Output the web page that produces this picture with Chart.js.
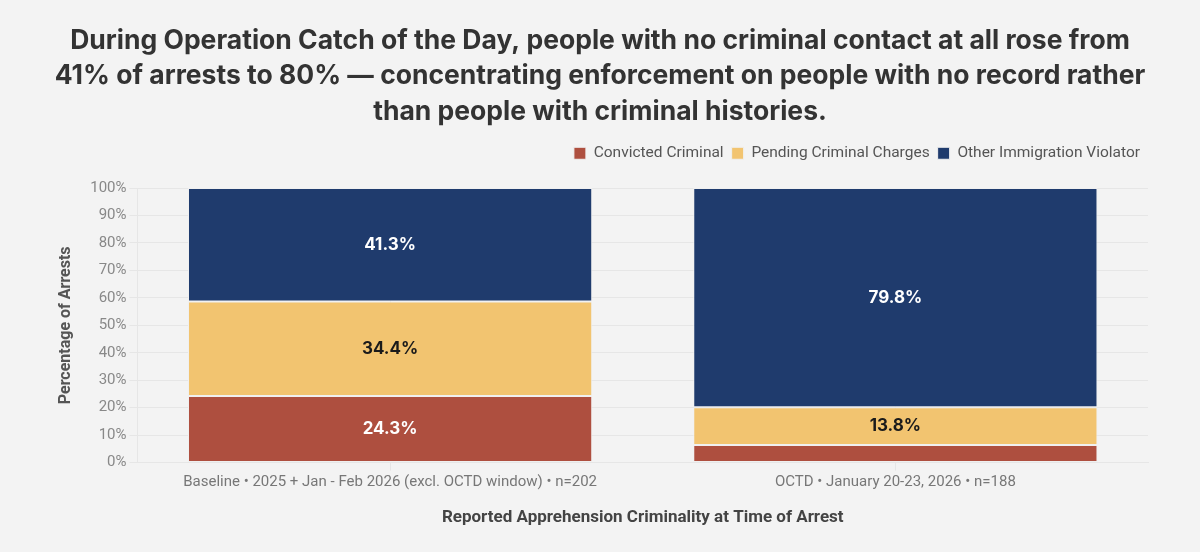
<!DOCTYPE html>
<html>
<head>
<meta charset="utf-8">
<script src="https://cdn.jsdelivr.net/npm/chart.js@4.4.1/dist/chart.umd.min.js"></script>
<style>
  html, body { margin: 0; padding: 0; background: #f7f7f7; }
  #wrap { width: 1200px; height: 552px; background: #f3f3f3; }
</style>
</head>
<body>
<div id="wrap"><canvas id="arrestChart" width="1200" height="552"></canvas></div>
<script>
// data
var categories = [
    "Baseline \u2022 2025 + Jan - Feb 2026 (excl. OCTD window) \u2022 n=202",
    "OCTD \u2022 January 20-23, 2026 \u2022 n=188"
];
var convicted = [24.3, 6.4];
var pending = [34.4, 13.8];
var otherViolator = [41.3, 79.8];
var yTicks = [0, 10, 20, 30, 40, 50, 60, 70, 80, 90, 100];

var titleLines = [
    "During Operation Catch of the Day, people with no criminal contact at all rose from",
    "41% of arrests to 80% \u2014 concentrating enforcement on people with no record rather",
    "than people with criminal histories."
];

// labels in the middle of each segment (small ones skipped)
var segmentLabels = {
    id: 'segmentLabels',
    afterDatasetsDraw: function(chart) {
        var ctx = chart.ctx;
        ctx.save();
        ctx.font = 'bold 17px Inter';
        ctx.textAlign = 'center';
        ctx.textBaseline = 'middle';
        chart.data.datasets.forEach(function(ds, i) {
            var meta = chart.getDatasetMeta(i);
            meta.data.forEach(function(bar, j) {
                var v = ds.data[j];
                if (v < 10) return;
                ctx.fillStyle = ds.labelColor;
                ctx.fillText(v.toFixed(1) + '%', bar.x, (bar.y + bar.base) / 2);
            });
        });
        ctx.restore();
    }
};

// a bit more room under the legend
var legendGap = {
    id: 'legendGap',
    beforeInit: function(chart) {
        var fit = chart.legend.fit;
        chart.legend.fit = function() {
            fit.bind(chart.legend)();
            this.height += 17;
        };
    }
};

var ctx = document.getElementById("arrestChart").getContext('2d');
var arrestChart = new Chart(ctx, {
    type: 'bar',
    data: {
        labels: categories,
        datasets: [{
            label: "Convicted Criminal",
            data: convicted,
            backgroundColor: "#ae4f3f",
            labelColor: "#ffffff"
        }, {
            label: "Pending Criminal Charges",
            data: pending,
            backgroundColor: "#f2c470",
            labelColor: "#1a1a1a"
        }, {
            label: "Other Immigration Violator",
            data: otherViolator,
            backgroundColor: "#1f3b6d",
            labelColor: "#ffffff"
        }]
    },
    options: {
        responsive: false,
        animation: false,
        layout: { padding: { left: 52, right: 52, top: 20, bottom: 20 } },
        datasets: {
            bar: {
                categoryPercentage: 1.0,
                barPercentage: 0.8,
                borderColor: '#f0f0f0',
                borderWidth: 1,
                borderSkipped: false
            }
        },
        plugins: {
            title: {
                display: true,
                text: titleLines,
                color: '#333333',
                font: { family: 'Inter', size: 26.5, weight: 'bold', lineHeight: 1.34 },
                padding: { top: 3, bottom: 8 }
            },
            legend: {
                position: 'top',
                align: 'end',
                labels: {
                    boxWidth: 12,
                    boxHeight: 12,
                    padding: 8,
                    color: '#555555',
                    font: { family: 'Roboto', size: 15.5 }
                }
            },
            tooltip: { enabled: false }
        },
        scales: {
            x: {
                stacked: true,
                grid: { color: '#e6e6e6', offset: false },
                border: { color: '#e6e6e6' },
                ticks: { color: '#777777', font: { family: 'Roboto', size: 15 } },
                title: {
                    display: true,
                    text: 'Reported Apprehension Criminality at Time of Arrest',
                    color: '#444444',
                    font: { family: 'Roboto', size: 17, weight: 'bold' },
                    padding: { top: 13 }
                }
            },
            y: {
                stacked: true,
                min: 0,
                max: 100,
                afterBuildTicks: function(axis) {
                    axis.ticks = yTicks.map(function(v) { return { value: v }; });
                },
                grid: { color: '#e6e6e6' },
                border: { color: '#e6e6e6' },
                ticks: {
                    color: '#888888',
                    font: { family: 'Roboto', size: 15 },
                    callback: function(v) { return v + '%'; }
                },
                title: {
                    display: true,
                    text: 'Percentage of Arrests',
                    color: '#555555',
                    font: { family: 'Roboto', size: 16, weight: 'bold' },
                    padding: { bottom: 12 }
                }
            }
        }
    },
    plugins: [segmentLabels, legendGap]
});
</script>
</body>
</html>
